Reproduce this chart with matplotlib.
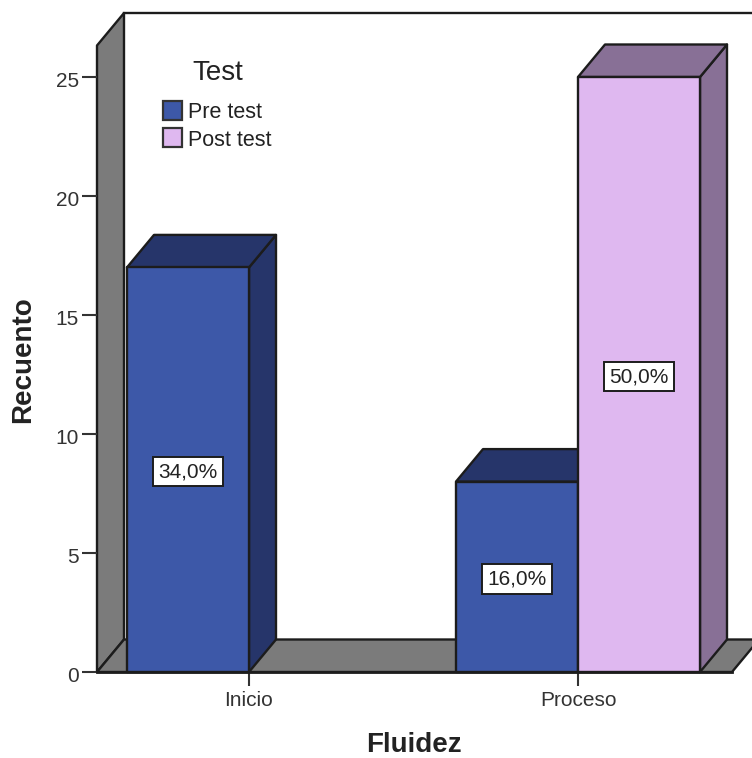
import matplotlib
matplotlib.use('Agg')
import matplotlib.pyplot as plt
from matplotlib.patches import Polygon, Rectangle
from matplotlib.transforms import ScaledTranslation

categories = ['Inicio', 'Proceso']
pre_test = [17, 8]
post_test = [0, 25]
pre_labels = ['34,0%', '16,0%']
post_labels = ['', '50,0%']
y_ticks = [0, 5, 10, 15, 20, 25]

W, H = 752, 758
x0_px, y0_px = 97, 672
cat0_px = 249
px_x = 329.0   # pixels per category
px_y = 23.8    # pixels per count
bar_w = 122 / px_x
dx = 27 / px_x
dy = 32.5 / px_y

blue, blue_side, blue_top = '#3d58a8', '#26356a', '#26356a'
pink, pink_side, pink_top = '#dfb8f0', '#887096', '#887096'
wall = '#7b7b7b'
edge = '#1c1c1c'

plt.rcParams['font.family'] = ['Liberation Sans', 'DejaVu Sans']

fig = plt.figure(figsize=(W / 100, H / 100), dpi=100)
ax = fig.add_axes([x0_px / W, (H - y0_px) / H, (W - x0_px) / W, y0_px / H])
ax.set_xlim((x0_px - cat0_px) / px_x, (W - cat0_px) / px_x)
ax.set_ylim(0, y0_px / px_y)
for s in ax.spines.values():
    s.set_visible(False)

xl = ax.get_xlim()[0]
top = (y0_px - 13) / px_y
right_floor = (732 - cat0_px) / px_x


def poly(pts, fc, z=2):
    ax.add_patch(Polygon(pts, closed=True, fc=fc, ec=edge, lw=1.7, zorder=z, clip_on=False, joinstyle='round'))


# walls
poly([(xl, 0), (xl + dx, dy), (xl + dx, top), (xl, top - dy)], wall, 1)
poly([(xl, 0), (xl + dx, dy), (right_floor + dx, dy), (right_floor, 0)], wall, 1)
ax.plot([xl + dx, 2], [top, top], color=edge, lw=1.7, zorder=1)


def bar3d(x, v, fc, side, tp, z):
    poly([(x + bar_w, 0), (x + bar_w + dx, dy), (x + bar_w + dx, v + dy), (x + bar_w, v)], side, z)
    poly([(x, v), (x + dx, v + dy), (x + bar_w + dx, v + dy), (x + bar_w, v)], tp, z)
    poly([(x, 0), (x, v), (x + bar_w, v), (x + bar_w, 0)], fc, z + 0.5)


def bar_label(x, v, s):
    ax.annotate(s, (x + bar_w / 2, v / 2), xytext=(0, -1.5), textcoords='offset points',
                ha='center', va='center', fontsize=15, color='#222222', zorder=8,
                bbox=dict(boxstyle='square,pad=0.25', fc='white', ec=edge, lw=1.4))


for i in range(len(categories)):
    bar3d(i - bar_w, pre_test[i], blue, blue_side, blue_top, 3 + i)
    if post_test[i] > 0:
        bar3d(i, post_test[i], pink, pink_side, pink_top, 5 + i)
    bar_label(i - bar_w, pre_test[i], pre_labels[i])
    if post_labels[i]:
        bar_label(i, post_test[i], post_labels[i])

ax.plot([xl, right_floor], [0, 0], color=edge, lw=2, zorder=7, clip_on=False)

ax.set_xticks(range(len(categories)))
ax.set_xticklabels(categories, fontsize=15, color='#333333')
ax.set_yticks(y_ticks)
ax.tick_params(axis='y', length=11, width=1.5, color='#333333', labelsize=15, labelcolor='#333333', pad=2)
ax.tick_params(axis='x', length=10, width=1.5, color='#333333', pad=4)

# tick numbers sit a little below their ticks in the reference
shift = ScaledTranslation(0, -2.5 / 100, fig.dpi_scale_trans)
for lab in ax.get_yticklabels():
    lab.set_transform(lab.get_transform() + shift)

fig.text(23 / W, 1 - 360 / H, 'Recuento', rotation=90, ha='center', va='center', fontsize=20, fontweight='bold', color='#222222')
fig.text(414 / W, 1 - 745 / H, 'Fluidez', ha='center', va='center', fontsize=20, fontweight='bold', color='#222222')

# legend
fig.text(218 / W, 1 - 73 / H, 'Test', ha='center', va='center', fontsize=20, color='#222222')
for name, color, yp in [('Pre test', blue, 111), ('Post test', pink, 138)]:
    fig.add_artist(Rectangle((163 / W, 1 - (yp + 9) / H), 19 / W, 19 / H, transform=fig.transFigure,
                             fc=color, ec='#333333', lw=1.6))
    fig.text(188 / W, 1 - (yp + 2) / H, name, ha='left', va='center', fontsize=15.5, color='#222222')

fig.savefig('out.png', dpi=100)
